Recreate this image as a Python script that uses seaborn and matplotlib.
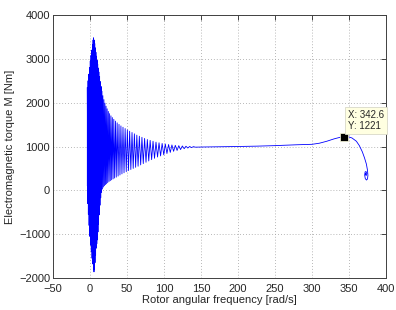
import numpy as np
import pandas as pd
import matplotlib
matplotlib.use("Agg")
import matplotlib.pyplot as plt
import seaborn as sns

# start-up transient: alternating peak / trough points of the torque oscillation
osc_speed = [-3.6, -3.6, -3.0, -2.6, -2.2, -1.6, -1.2, -0.6, -0.2, 0.4, 0.8, 1.4, 1.8, 2.4, 2.8,
             3.4, 3.8, 4.2, 4.7, 4.8, 5.4, 5.6, 6.0, 6.4, 6.8, 7.2, 7.6, 8.0, 8.4, 8.8, 9.2, 9.6,
             10.0, 10.4, 10.8, 11.2, 11.6, 12.0, 12.5, 13.0, 13.5, 14.0, 14.5, 15.0, 15.6, 16.2,
             16.8, 17.4, 18.1, 18.8, 19.5, 20.2, 21.0, 21.7, 22.5, 23.2, 24.0, 24.8, 25.7, 26.5,
             27.4, 28.3, 29.3, 30.2, 31.2, 32.2, 33.3, 34.4, 35.5, 36.7, 38.0, 39.2, 40.5, 41.8,
             43.2, 44.6, 46.0, 47.5, 49.0, 50.5, 52.0, 53.6, 55.2, 56.8, 58.4, 60.0, 61.7, 63.3,
             65.0, 66.7, 68.5, 70.2, 72.0, 73.8, 75.7, 77.5, 79.4, 81.3, 83.3, 85.2, 87.2, 89.2,
             91.3, 93.3, 95.4, 97.5, 99.7, 101.8, 104.0, 106.2, 108.5, 110.7, 113.0, 115.3,
             117.7, 120.0, 122.4, 124.8, 127.3, 129.7, 132.2, 134.7, 137.2, 139.8, 142.3]
osc_torque = [100, 2350, -300, 2500, -550, 2650, -800, 2800, -1050, 2950, -1250, 3080, -1400,
              3200, -1550, 3330, -1680, 3430, -1800, 3480, -1860, 3430, -1800, 3350, -1650, 3250,
              -1480, 3150, -1320, 3060, -1220, 2970, -1130, 2880, -950, 2790, -770, 2700, -560,
              2600, -340, 2480, -170, 2370, -50, 2260, 30, 2160, 75, 2070, 105, 1990, 130, 1920,
              150, 1860, 175, 1800, 200, 1750, 220, 1700, 240, 1660, 260, 1620, 280, 1580, 300,
              1540, 325, 1505, 350, 1470, 375, 1440, 400, 1410, 425, 1380, 450, 1350, 475, 1320,
              500, 1290, 525, 1260, 550, 1235, 580, 1210, 610, 1185, 640, 1160, 670, 1140, 700,
              1120, 730, 1100, 760, 1085, 785, 1070, 810, 1058, 840, 1046, 865, 1036, 890, 1027,
              910, 1019, 930, 1012, 950, 1006, 965, 1001, 975, 997, 985]

# run-up to near synchronous speed and the final spiral
tail_speed = [150, 175, 200, 225, 250, 280, 300, 310, 320, 330, 338, 342.6, 348, 354, 360, 364,
              368, 371, 373.5, 375, 375.6, 375, 373.6, 372, 371.2, 371.8, 373, 374, 373.5,
              372.4, 372.5]
tail_torque = [988, 993, 1000, 1008, 1020, 1040, 1050, 1075, 1120, 1175, 1210, 1221, 1228, 1195,
               1120, 1020, 880, 740, 600, 460, 340, 260, 235, 270, 350, 420, 430, 390, 340, 350,
               390]

datatip_x = [342.6]
datatip_y = [1221]

x_ticks = [-50, 0, 50, 100, 150, 200, 250, 300, 350, 400]
y_ticks = [-2000, -1000, 0, 1000, 2000, 3000, 4000]

df = pd.DataFrame({
    'speed': osc_speed + tail_speed,
    'torque': osc_torque + tail_torque,
})
df['step'] = np.arange(len(df))

sns.set_theme(style="white")
plt.rcParams['font.family'] = ['Liberation Sans', 'DejaVu Sans']

fig = plt.figure(figsize=(3.96, 3.10), dpi=100)
ax = fig.add_axes([0.1338, 0.1032, 0.8409, 0.8484])

sns.lineplot(data=df, x='speed', y='torque', sort=False, estimator=None,
             color='#0000ff', linewidth=0.6, ax=ax)
sns.scatterplot(x=datatip_x, y=datatip_y, marker='s', s=30, color='black',
                edgecolor='#ffffe0', linewidth=0.5, ax=ax, zorder=5)

ax.text(348.5, 1830, f"X: {datatip_x[0]}\nY: {datatip_y[0]}", fontsize=7, va='top', ha='left',
        linespacing=1.1, zorder=6,
        bbox=dict(boxstyle='square,pad=0.3', fc='#ffffe1', ec='#d8d8c8', lw=0.6))

ax.set_xlim(-50, 400)
ax.set_ylim(-2000, 4000)
ax.set_xticks(x_ticks)
ax.set_yticks(y_ticks)
ax.grid(True, color='#a0a0a0', linestyle=(0, (1, 2.5)), linewidth=0.6)
ax.tick_params(direction='in', length=3.5, width=0.6, labelsize=8, colors='#262626',
               top=True, right=True, pad=2)
ax.tick_params(axis='x', pad=4)
for s in ax.spines.values():
    s.set_color('#404040')
    s.set_linewidth(0.7)

ax.set_xlabel('Rotor angular frequency [rad/s]', fontsize=8, labelpad=1, color='#262626')
ax.set_ylabel('Electromagnetic torque M [Nm]', fontsize=8, labelpad=3, color='#262626')

fig.savefig('out.png', dpi=100)
